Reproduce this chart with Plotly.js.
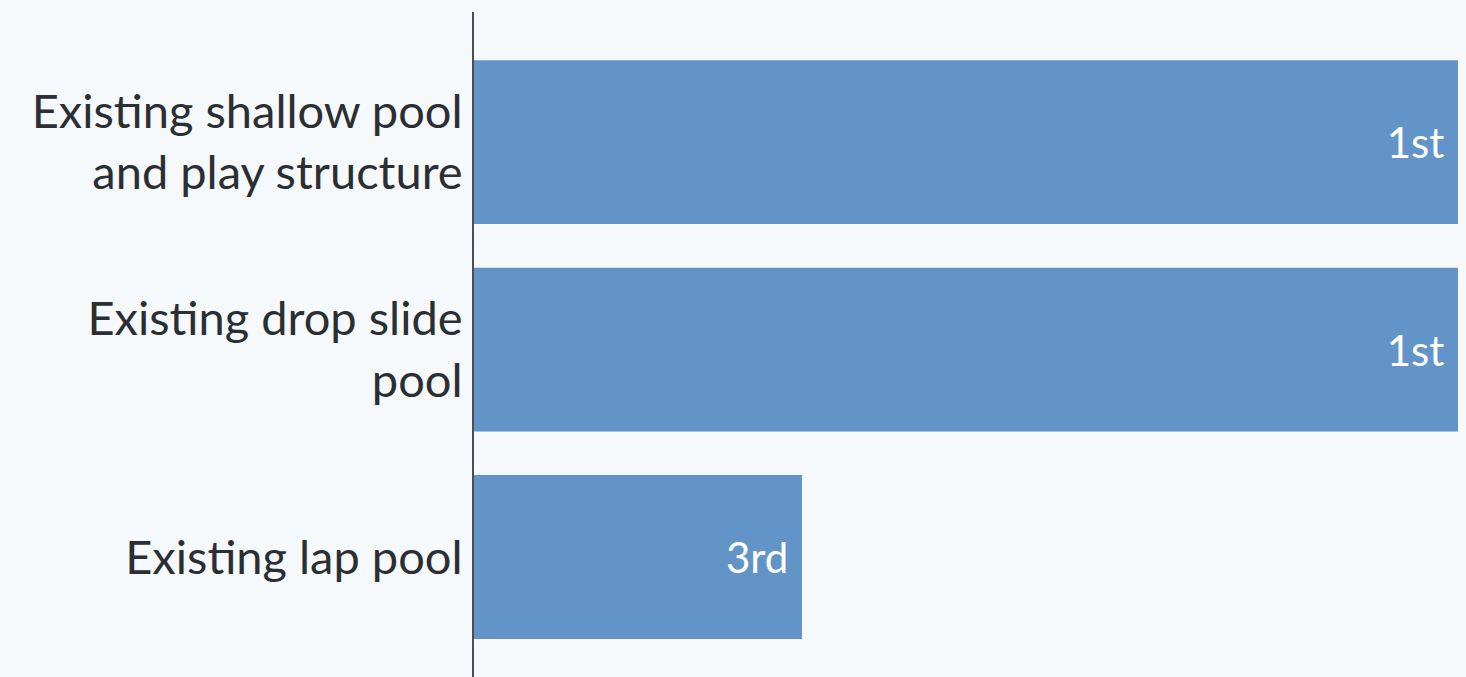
<!DOCTYPE html>
<html>
<head>
<meta charset="utf-8">
<script src="https://cdn.plot.ly/plotly-3.0.1.min.js"></script>
<style>html,body{margin:0;padding:0;background:#f6f9fc;}</style>
</head>
<body>
<div id="chart" style="width:1466px;height:677px;"></div>
<script>
const categories = ["Existing shallow pool<br>and play structure", "Existing drop slide<br>pool", "Existing lap pool"];
const scores = [3, 3, 1];
const rankLabels = ["1st", "1st", "3rd"];

const trace = {
  type: "bar",
  orientation: "h",
  y: categories,
  x: scores,
  text: rankLabels,
  texttemplate: "%{text}\u00a0",
  textposition: "inside",
  insidetextanchor: "end",
  textfont: {family: "Lato, 'Noto Sans', sans-serif", size: 42, color: "#ffffff"},
  marker: {color: "#6394c7"},
  hoverinfo: "none",
  cliponaxis: false
};

const layout = {
  width: 1466,
  height: 677,
  margin: {l: 474, r: 8, t: 12, b: 0},
  paper_bgcolor: "#f6f9fc",
  plot_bgcolor: "#f6f9fc",
  bargap: 0.21,
  showlegend: false,
  xaxis: {range: [0, 3], showgrid: false, zeroline: false, showticklabels: false, showline: false, fixedrange: true},
  yaxis: {
    type: "category",
    range: [2.578, -0.627],
    showgrid: false, zeroline: false,
    showline: true, linecolor: "#4a4f55", linewidth: 2,
    ticks: "", ticklabelstandoff: 0,
    tickfont: {family: "Lato, 'Noto Sans', sans-serif", size: 47, color: "#2b2f33"},
    fixedrange: true
  },
  font: {family: "Lato, 'Noto Sans', sans-serif"}
};

Plotly.newPlot("chart", [trace], layout, {displayModeBar: false, staticPlot: true});
</script>
</body>
</html>
